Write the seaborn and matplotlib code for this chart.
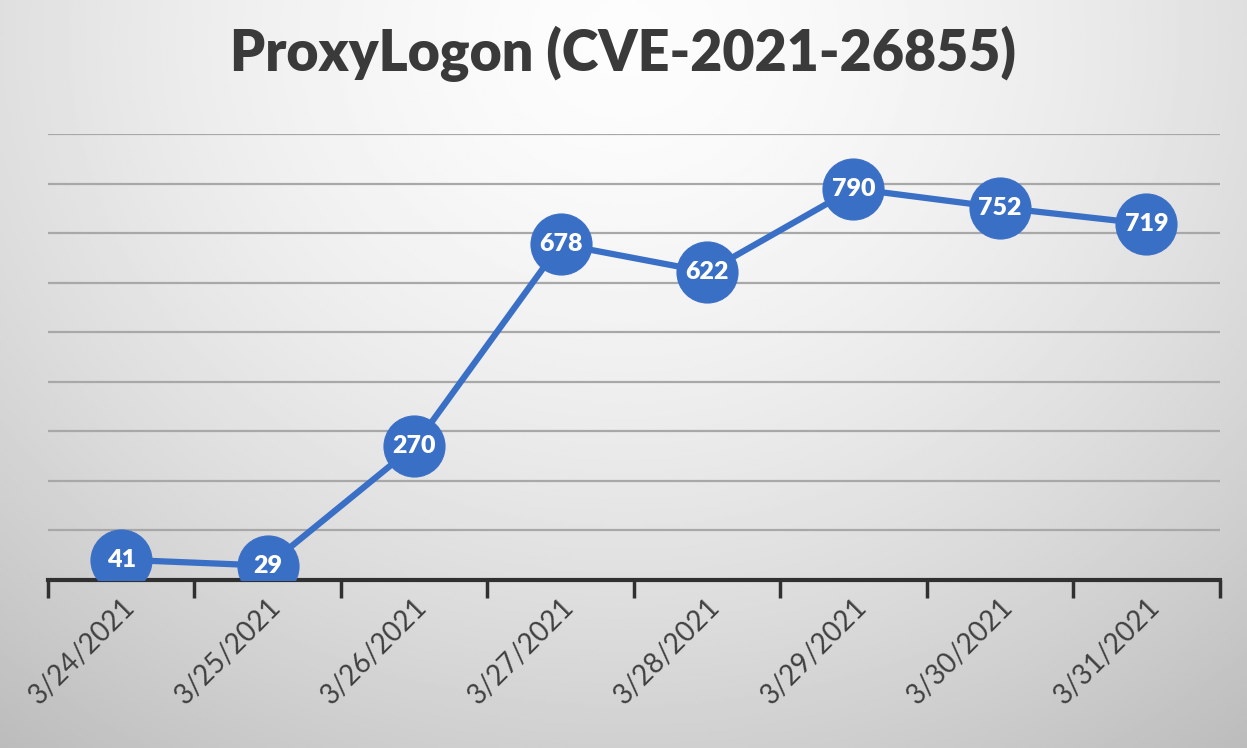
import numpy as np
import pandas as pd
import seaborn as sns
import matplotlib
import matplotlib.pyplot as plt

matplotlib.use('Agg')

dates = ['3/24/2021', '3/25/2021', '3/26/2021', '3/27/2021',
         '3/28/2021', '3/29/2021', '3/30/2021', '3/31/2021']
counts = [41, 29, 270, 678, 622, 790, 752, 719]
title = 'ProxyLogon (CVE-2021-26855)'

df = pd.DataFrame({'pos': np.arange(len(dates)), 'count': counts})

sns.set_theme(style='white')
plt.rcParams['font.family'] = ['Lato', 'DejaVu Sans']

fig = plt.figure(figsize=(12.47, 7.48), dpi=100)

# gray radial-ish background like the slide
bg = fig.add_axes([0, 0, 1, 1], zorder=-10)
yy, xx = np.mgrid[0:1:300j, 0:1:500j]
r = np.sqrt(((xx - 0.5) / 0.75) ** 2 + ((yy - 0.05) / 1.1) ** 2)
shade = np.clip(0.99 - 0.22 * r ** 1.6, 0.72, 1.0)
bg.imshow(shade, cmap='gray', vmin=0, vmax=1, aspect='auto', extent=[0, 1, 1, 0])
bg.axis('off')

ax = fig.add_axes([0.0385, 0.2246, 0.9395, 0.596])
ax.patch.set_alpha(0)

sns.lineplot(data=df, x='pos', y='count', ax=ax, color='#3a6fc6', lw=4.5,
             marker='o', markersize=44, markeredgecolor='#3a6fc6', zorder=3)

for x, v in zip(df['pos'], df['count']):
    ax.text(x, v, str(v), ha='center', va='center', color='white',
            fontsize=18, fontweight='heavy', zorder=4)

ax.set_xlim(-0.5, len(dates) - 0.5)
ax.set_ylim(0, 900)
ax.set_yticks(np.arange(100, 901, 100))
ax.yaxis.grid(True, color='#a8a8a8', lw=1.6)
ax.set_yticklabels([])
ax.tick_params(axis='y', length=0)

ax.set_xticks(np.arange(len(dates)))
ax.set_xticklabels(dates, rotation=45, ha='right', rotation_mode='anchor',
                   fontsize=20, color='#404040')
ax.tick_params(axis='x', which='major', bottom=False, length=0, pad=10)
ax.set_xticks(np.arange(len(dates) + 1) - 0.5, minor=True)
ax.tick_params(axis='x', which='minor', bottom=True, length=13, width=2.5,
               color='#303030')
ax.set_xlabel('')
ax.set_ylabel('')

for s in ['top', 'right', 'left']:
    ax.spines[s].set_visible(False)
ax.spines['bottom'].set_color('#303030')
ax.spines['bottom'].set_linewidth(3)

fig.text(0.5, 0.928, title, ha='center', va='center', fontsize=40,
         fontweight='heavy', color='#3a3a3a')

fig.savefig('out.png', dpi=100)
